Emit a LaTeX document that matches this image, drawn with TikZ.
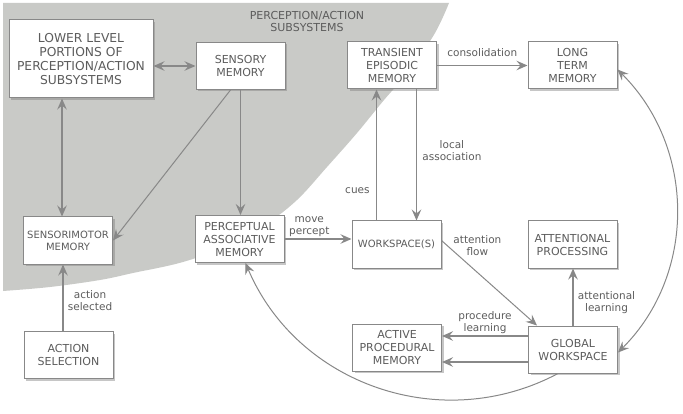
\documentclass[tikz,border=0pt]{standalone}
\usepackage{fontspec}
\setmainfont{DejaVu Sans}
\usepackage{xcolor}
\usepackage{tikz}
\usetikzlibrary{arrows.meta,positioning,shadows,calc}
\definecolor{regiongray}{HTML}{C9CAC7}
\definecolor{linegray}{HTML}{888888}
\definecolor{textgray}{HTML}{5C5C5C}
\tikzset{
    memory box/.style={draw=linegray, line width=1pt, fill=white, text=textgray,
        align=center, minimum width=89pt, minimum height=47pt, inner sep=0pt,
        font=\fontsize{11}{13}\selectfont,
        drop shadow={shadow xshift=2pt, shadow yshift=-2pt, opacity=.45}},
    big box/.style={memory box, minimum width=144pt, minimum height=78pt,
        font=\fontsize{12.3}{14}\selectfont},
    small box/.style={memory box, font=\fontsize{10}{12}\selectfont},
    arr/.style={->,>={Stealth[length=11pt,width=9.5pt,inset=4pt]},linegray,line width=1.8pt},
    darr/.style={arr,<->},
    thin arr/.style={arr,line width=1pt},
    flow label/.style={text=textgray, font=\fontsize{10.5}{12}\selectfont, align=center, inner sep=0pt},
    region title/.style={text=textgray, font=\fontsize{11}{12}\selectfont, align=center, inner sep=0pt},
}

\begin{document}
\begin{tikzpicture}[x=1pt,y=1pt]
    \useasboundingbox (0,0) rectangle (683,413);

    % perception/action subsystems
    \fill[regiongray] (3,410) -- plot[smooth, tension=.6] coordinates {(449,410) (435,380) (410,343)
        (384,313) (357,280) (327,246) (297,213) (265,188) (230,168) (183,151) (133,140)
        (100,133) (50,126) (3,122)} -- cycle;
    \node[region title] (region) at (307,392) {PERCEPTION/ACTION\\SUBSYSTEMS};

    % boxes
    \node[big box] (lower) at (81,354) {LOWER LEVEL\\PORTIONS OF\\PERCEPTION/ACTION\\SUBSYSTEMS};
    \node[memory box] (sensory) at (240.5,347) {SENSORY\\MEMORY};
    \node[memory box] (transient) at (392,347.5) {TRANSIENT\\EPISODIC\\MEMORY};
    \node[memory box] (ltm) at (572.5,347.5) {LONG\\TERM\\MEMORY};
    \node[small box] (smm) at (68,172.5) {SENSORIMOTOR\\MEMORY};
    \node[memory box] (pam) at (239.5,174) {PERCEPTUAL\\ASSOCIATIVE\\MEMORY};
    \node[small box] (ws) at (396.5,168.5) {WORKSPACE(S)};
    \node[memory box] (att) at (572.5,168.5) {ATTENTIONAL\\PROCESSING};
    \node[memory box] (action) at (68.5,58) {ACTION\\SELECTION};
    \node[memory box] (apm) at (397,65.5) {ACTIVE\\PROCEDURAL\\MEMORY};
    \node[memory box] (gw) at (573,63.5) {GLOBAL\\WORKSPACE};

    % left side
    \coordinate (smm top) at ([xshift=-6pt]smm.north);
    \coordinate (smm bottom) at ([xshift=-5pt]smm.south);
    \draw[darr] (sensory.west -| lower.east) -- (sensory.west);
    \draw[darr] (smm top |- lower.south) -- (smm top);
    \draw[arr] (smm bottom |- action.north) -- (smm bottom)
        node[flow label, pos=.45, right=4pt] {action\\selected};
    \draw[thin arr] ([xshift=-10pt]sensory.south) -- (smm.east);
    \draw[arr] (sensory.south) -- (sensory.south |- pam.north);
    \draw[arr] (pam.east) -- (pam.east -| ws.west)
        node[flow label, pos=.37, above=1pt] {move\\percept};

    % workspace and episodic memory
    \coordinate (cue) at ([xshift=-20pt]ws.north);
    \coordinate (assoc) at ([xshift=20pt]ws.north);
    \draw[arr] (cue) -- (cue |- transient.south)
        node[flow label, pos=.23, left=6pt] {cues};
    \draw[arr] (assoc |- transient.south) -- (assoc)
        node[flow label, pos=.47, right=5pt] {local\\association};
    \draw[arr] (transient.east) -- (transient.east -| ltm.west)
        node[flow label, midway, above=8pt] {consolidation};

    % global workspace
    \coordinate (proc a) at ([yshift=13.5pt]gw.west);
    \coordinate (proc b) at ([yshift=-12.5pt]gw.west);
    \draw[thin arr] ([yshift=4pt]ws.east) -- ([xshift=9pt]gw.north west)
        node[flow label, pos=.12, anchor=west, yshift=5pt] {attention\\flow};
    \draw[arr] (gw.north) -- (gw.north |- att.south)
        node[flow label, pos=.4, right=4pt] {attentional\\learning};
    \draw[arr] (proc a) -- (proc a -| apm.east)
        node[flow label, midway, above=1pt] {procedure\\learning};
    \draw[arr] (proc b) -- (proc b -| apm.east);

    % long range
    \draw[thin arr,<->] ([yshift=-4pt]ltm.east) to[out=-45, in=45] ([yshift=-3pt]gw.east);
    \draw[thin arr] ([xshift=-15pt]gw.south) to[out=208, in=-67, looseness=1.02] ([xshift=6pt]pam.south);
\end{tikzpicture}
\end{document}
